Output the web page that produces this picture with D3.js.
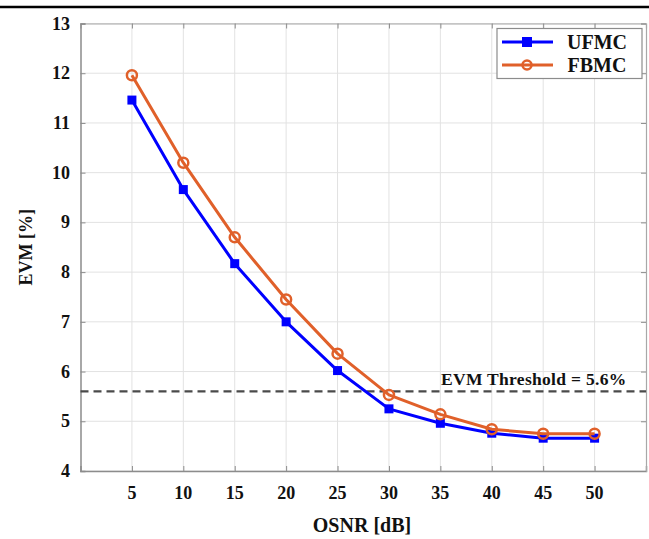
<!DOCTYPE html>
<html>
<head>
<meta charset="utf-8">
<script src="https://cdn.jsdelivr.net/npm/d3@7"></script>
<style>
  html, body { margin: 0; padding: 0; background: #fff; }
  svg { display: block; }
  text { font-family: "Liberation Serif", "Times New Roman", serif; font-weight: bold; fill: #111; }
</style>
</head>
<body>
<svg id="chart" width="649" height="539"></svg>
<script>
// OSNR sweep and measured EVM for each modulation scheme
const osnr = [5, 10, 15, 20, 25, 30, 35, 40, 45, 50];
const evmUFMC = [11.46, 9.66, 8.17, 7.00, 6.02, 5.25, 4.96, 4.76, 4.66, 4.66];
const evmFBMC = [11.96, 10.20, 8.70, 7.45, 6.36, 5.53, 5.14, 4.84, 4.75, 4.75];
const xTicks = [5, 10, 15, 20, 25, 30, 35, 40, 45, 50];
const yTicks = [4, 5, 6, 7, 8, 9, 10, 11, 12, 13];
const threshold = 5.6;
const seriesNames = ["UFMC", "FBMC"];

const svg = d3.select("#chart");
const W = 649, H = 539;
const plot = { left: 80.5, right: 646, top: 23.5, bottom: 471 };

const x = d3.scaleLinear().domain([0, 55]).range([plot.left, plot.right]);
const y = d3.scaleLinear().domain([4, 13]).range([plot.bottom, plot.top]);

const blue = "#0000ff";
const orange = "#e0602a";

// rule across the top of the page
svg.append("line")
  .attr("x1", 0).attr("x2", W).attr("y1", 7).attr("y2", 7)
  .attr("stroke", "#000").attr("stroke-width", 2.5);

// grid
const grid = svg.append("g");
grid.selectAll(".gx").data(xTicks).join("line")
  .attr("x1", d => x(d)).attr("x2", d => x(d))
  .attr("y1", plot.top).attr("y2", plot.bottom)
  .attr("stroke", "#e2e2e2").attr("stroke-width", 1);
grid.selectAll(".gy").data(yTicks).join("line")
  .attr("x1", plot.left).attr("x2", plot.right)
  .attr("y1", d => y(d)).attr("y2", d => y(d))
  .attr("stroke", "#e2e2e2").attr("stroke-width", 1);

// axes (ticks drawn inward, labels placed separately)
const axB = svg.append("g").attr("transform", `translate(0,${plot.bottom})`)
  .call(d3.axisBottom(x).tickValues(xTicks).tickSize(-5).tickFormat(""));
const axT = svg.append("g").attr("transform", `translate(0,${plot.top})`)
  .call(d3.axisTop(x).tickValues(xTicks).tickSize(-5).tickFormat(""));
const axL = svg.append("g").attr("transform", `translate(${plot.left},0)`)
  .call(d3.axisLeft(y).tickValues(yTicks).tickSize(-5).tickFormat(""));
const axR = svg.append("g").attr("transform", `translate(${plot.right},0)`)
  .call(d3.axisRight(y).tickValues(yTicks).tickSize(-5).tickFormat(""));
[axB, axT, axL, axR].forEach(a => {
  a.select(".domain").attr("stroke", "#8c8c8c").attr("stroke-width", 1.5);
  a.selectAll(".tick line").attr("stroke", "#8c8c8c").attr("stroke-width", 1);
});
[axT, axR].forEach(a => a.select(".domain").attr("stroke", "#a8a8a8").attr("stroke-width", 1.2));

// tick labels
svg.append("g").selectAll("text").data(xTicks).join("text")
  .attr("x", d => x(d)).attr("y", 499)
  .attr("text-anchor", "middle").attr("font-size", 18)
  .text(d => d);
svg.append("g").selectAll("text").data(yTicks).join("text")
  .attr("x", 70).attr("y", d => y(d) + 6)
  .attr("text-anchor", "end").attr("font-size", 18)
  .text(d => d);

// axis titles
svg.append("text")
  .attr("x", 362).attr("y", 532)
  .attr("text-anchor", "middle").attr("font-size", 20)
  .text("OSNR [dB]");
svg.append("text")
  .attr("transform", `translate(32,${(plot.top + plot.bottom) / 2}) rotate(-90)`)
  .attr("text-anchor", "middle").attr("font-size", 18)
  .text("EVM [%]");

// threshold
svg.append("line")
  .attr("x1", plot.left).attr("x2", plot.right)
  .attr("y1", y(threshold)).attr("y2", y(threshold))
  .attr("stroke", "#4a4a4a").attr("stroke-width", 2.2)
  .attr("stroke-dasharray", "8,5");
svg.append("text")
  .attr("x", 441).attr("y", y(threshold) - 6)
  .attr("font-size", 17.5).attr("letter-spacing", 0.3)
  .text(`EVM Threshold = ${threshold}%`);

// series
const line = d3.line().x(d => x(d[0])).y(d => y(d[1]));
const ufmc = osnr.map((o, i) => [o, evmUFMC[i]]);
const fbmc = osnr.map((o, i) => [o, evmFBMC[i]]);

svg.append("path").datum(ufmc).attr("d", line)
  .attr("fill", "none").attr("stroke", blue).attr("stroke-width", 3)
  .attr("stroke-linejoin", "round");
svg.append("g").selectAll("rect").data(ufmc).join("rect")
  .attr("x", d => x(d[0]) - 4.5).attr("y", d => y(d[1]) - 4.5)
  .attr("width", 9).attr("height", 9).attr("fill", blue);

svg.append("path").datum(fbmc).attr("d", line)
  .attr("fill", "none").attr("stroke", orange).attr("stroke-width", 3)
  .attr("stroke-linejoin", "round");
svg.append("g").selectAll("circle").data(fbmc).join("circle")
  .attr("cx", d => x(d[0])).attr("cy", d => y(d[1])).attr("r", 5)
  .attr("fill", "none").attr("stroke", orange).attr("stroke-width", 2.5);

// legend
const lg = svg.append("g");
lg.append("rect").attr("x", 497).attr("y", 28.5).attr("width", 145).attr("height", 50)
  .attr("fill", "#fff").attr("stroke", "#8c8c8c").attr("stroke-width", 1.2);
const legendRows = [
  { name: seriesNames[0], color: blue, y: 42, marker: "square" },
  { name: seriesNames[1], color: orange, y: 65, marker: "circle" }
];
legendRows.forEach(r => {
  lg.append("line").attr("x1", 502).attr("x2", 553).attr("y1", r.y).attr("y2", r.y)
    .attr("stroke", r.color).attr("stroke-width", 3);
  if (r.marker === "square") {
    lg.append("rect").attr("x", 522).attr("y", r.y - 5).attr("width", 10).attr("height", 10)
      .attr("fill", r.color);
  } else {
    lg.append("circle").attr("cx", 527).attr("cy", r.y).attr("r", 4.5)
      .attr("fill", "none").attr("stroke", r.color).attr("stroke-width", 2.5);
  }
  lg.append("text").attr("x", 597).attr("y", r.y + 7)
    .attr("text-anchor", "middle").attr("font-size", 20)
    .text(r.name);
});
</script>
</body>
</html>
